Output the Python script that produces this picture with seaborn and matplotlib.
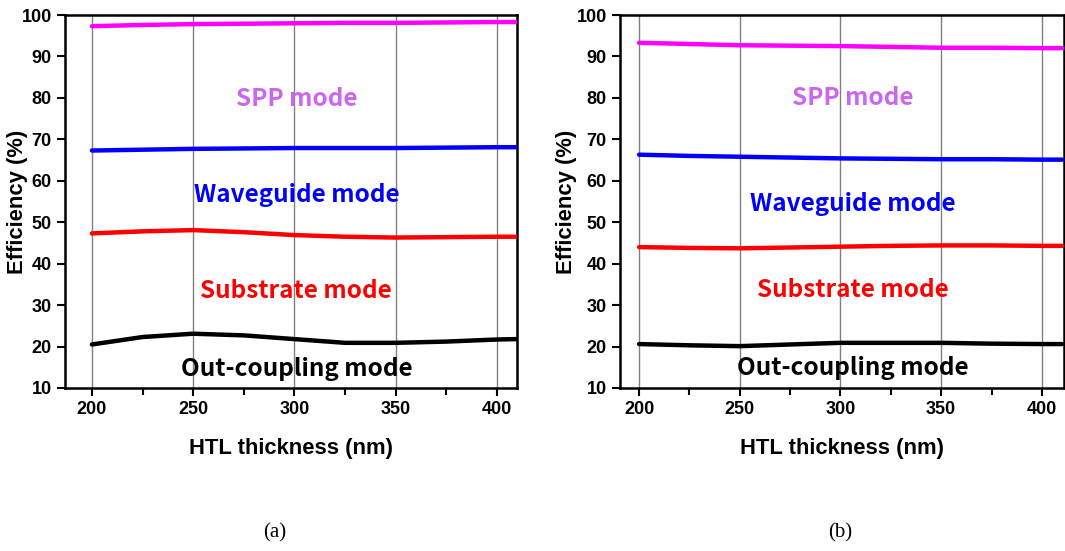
import matplotlib
matplotlib.use("Agg")
import matplotlib.pyplot as plt
import seaborn as sns
import pandas as pd
from matplotlib.ticker import MultipleLocator

# ---- data ----
thickness = [200, 225, 250, 275, 300, 325, 350, 375, 400, 410]

a_spp = [97.3, 97.6, 97.8, 97.9, 98.0, 98.1, 98.1, 98.2, 98.3, 98.3]
a_wg = [67.3, 67.5, 67.7, 67.8, 67.9, 67.9, 67.9, 68.0, 68.1, 68.1]
a_sub = [47.3, 47.8, 48.1, 47.6, 46.9, 46.5, 46.3, 46.4, 46.5, 46.5]
a_out = [20.5, 22.3, 23.1, 22.7, 21.8, 20.9, 20.9, 21.2, 21.7, 21.8]

b_spp = [93.3, 93.0, 92.7, 92.6, 92.5, 92.3, 92.1, 92.1, 92.0, 92.0]
b_wg = [66.3, 66.0, 65.8, 65.6, 65.4, 65.3, 65.2, 65.2, 65.1, 65.1]
b_sub = [44.0, 43.8, 43.7, 43.9, 44.1, 44.3, 44.4, 44.4, 44.3, 44.3]
b_out = [20.6, 20.3, 20.1, 20.5, 20.9, 20.9, 20.9, 20.7, 20.6, 20.6]

modes = ["SPP mode", "Waveguide mode", "Substrate mode", "Out-coupling mode"]
line_colors = ["#ff00ff", "#0000ff", "#ff0000", "#000000"]
text_colors = ["#cc66ee", "#0000ff", "#ff0000", "#000000"]

a_text_pos = [(301, 79.7), (301, 56.6), (301, 33.4), (301, 14.6)]
b_text_pos = [(306, 80.0), (306, 54.4), (306, 33.6), (306, 14.8)]

xticks = [200, 250, 300, 350, 400]
yticks = [10, 20, 30, 40, 50, 60, 70, 80, 90, 100]

sns.set_style("ticks")
plt.rcParams["font.family"] = ["Liberation Sans", "DejaVu Sans"]
plt.rcParams["text.color"] = "black"
plt.rcParams["axes.labelcolor"] = "black"
plt.rcParams["xtick.color"] = "black"
plt.rcParams["ytick.color"] = "black"

fig = plt.figure(figsize=(10.65, 5.51), dpi=100)
ax_a = fig.add_axes([65 / 1065, 1 - 388 / 551, (517 - 65) / 1065, 373 / 551])
ax_b = fig.add_axes([620 / 1065, 1 - 388 / 551, (1064 - 620) / 1065, 373 / 551])


def make_df(series):
    rows = []
    for name, vals in zip(modes, series):
        for x, v in zip(thickness, vals):
            rows.append({"HTL": x, "Eff": v, "mode": name})
    return pd.DataFrame(rows)


panels = [
    (ax_a, [a_spp, a_wg, a_sub, a_out], a_text_pos, (186.7, 410.0), 28),
    (ax_b, [b_spp, b_wg, b_sub, b_out], b_text_pos, (190.5, 411.0), 577),
]

for ax, series, tpos, xl, ylab_px in panels:
    df = make_df(series)
    for x in xticks:
        ax.axvline(x, color="#808080", lw=1.0, zorder=0)
    sns.lineplot(data=df, x="HTL", y="Eff", hue="mode", palette=dict(zip(modes, line_colors)),
                 linewidth=3.2, ax=ax, legend=False, zorder=3)
    ax.set_xlim(*xl)
    ax.set_ylim(10, 100)
    ax.set_xticks(xticks)
    ax.set_yticks(yticks)
    ax.xaxis.set_minor_locator(MultipleLocator(25))
    ax.tick_params(axis="both", which="major", direction="out", length=6, width=1.5,
                   labelsize=13, color="black", labelcolor="black")
    ax.tick_params(axis="x", which="minor", direction="out", length=5, width=1.5)
    for lab in ax.get_xticklabels() + ax.get_yticklabels():
        lab.set_fontweight("bold")
    for sp in ax.spines.values():
        sp.set_visible(True)
        sp.set_linewidth(1.8)
        sp.set_color("black")
    ax.set_xlabel("HTL thickness (nm)", fontsize=15.8, fontweight="bold", color="black")
    ax.set_ylabel("Efficiency (%)", fontsize=15.8, fontweight="bold", color="black")
    pos = ax.get_position()
    ax_left_px = pos.x0 * 1065
    ax.yaxis.set_label_coords((ylab_px - ax_left_px) / (pos.width * 1065), 0.5)
    ax.xaxis.set_label_coords(0.5, -(438 - 388) / 373)
    for name, col, (tx, ty) in zip(modes, text_colors, tpos):
        ax.text(tx, ty, name, color=col, fontsize=17.5, fontweight="bold",
                family=["Noto Sans CJK KR", "DejaVu Sans"], ha="center", va="center", zorder=4)

fig.text(275 / 1065, 1 - 533 / 551, "(a)", family=["Liberation Serif"], fontsize=15,
         ha="center", va="center", color="black")
fig.text(840 / 1065, 1 - 533 / 551, "(b)", family=["Liberation Serif"], fontsize=15,
         ha="center", va="center", color="black")

fig.savefig("out.png", dpi=100)
